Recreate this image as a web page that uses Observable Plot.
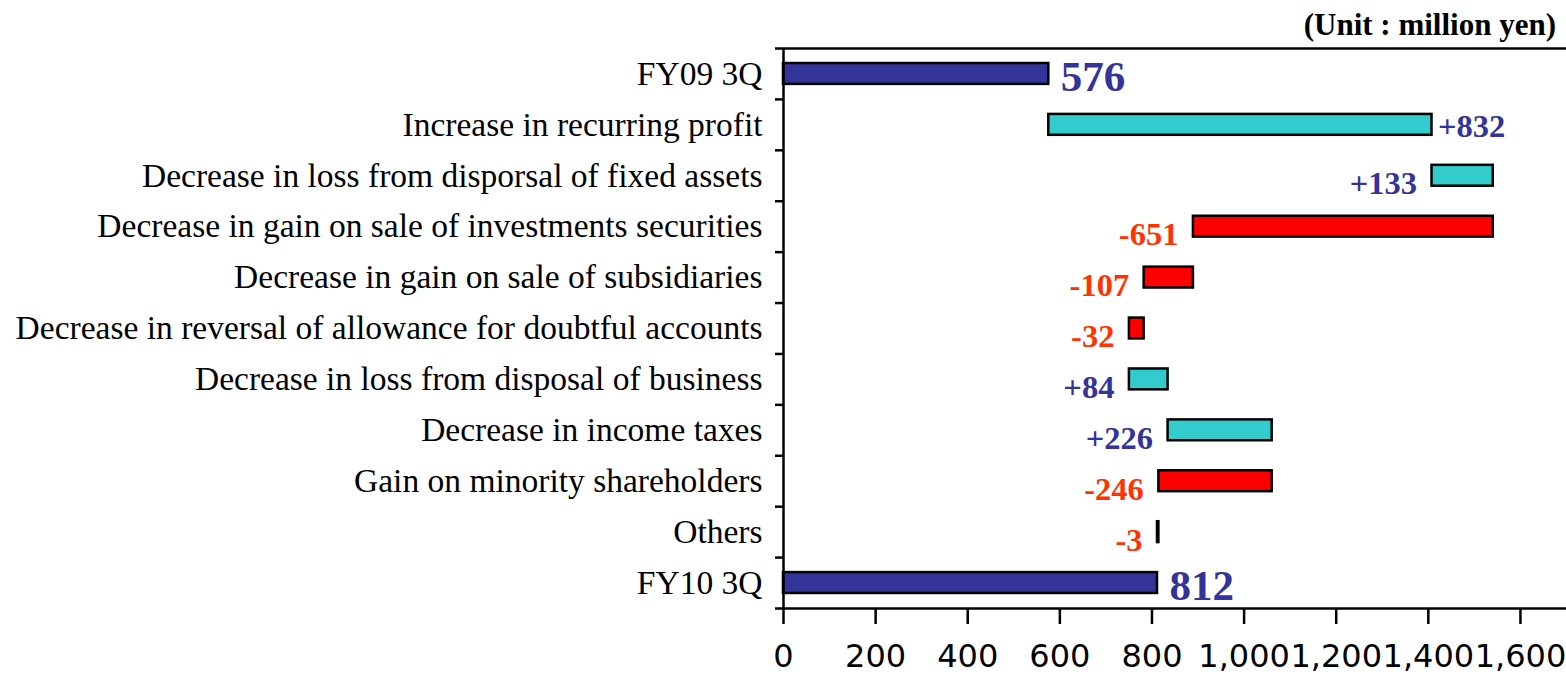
<!DOCTYPE html>
<html>
<head>
<meta charset="utf-8">
<script src="https://cdn.jsdelivr.net/npm/d3@7"></script>
<script src="https://cdn.jsdelivr.net/npm/@observablehq/plot@0.6"></script>
<style>
  html, body { margin: 0; padding: 0; background: #ffffff; }
  #title { box-sizing: border-box; height: 40px; padding-top: 9px; padding-right: 10px; text-align: right;
           font: bold 31px/31px 'Liberation Serif', 'Times New Roman', serif; color: #000; overflow: visible; }
  #chart svg { display: block; }
</style>
</head>
<body>
<div id="title">(Unit : million yen)</div>
<div id="chart"></div>
<script>
// ---- data ----
const categories = [
  "FY09 3Q",
  "Increase in recurring profit",
  "Decrease in loss from disporsal of fixed assets",
  "Decrease in gain on sale of investments securities",
  "Decrease in gain on sale of subsidiaries",
  "Decrease in reversal of allowance for doubtful accounts",
  "Decrease in loss from disposal of business",
  "Decrease in income taxes",
  "Gain on minority shareholders",
  "Others",
  "FY10 3Q"
];
const values = [576, 832, 133, -651, -107, -32, 84, 226, -246, -3, 812];
const xTicks = [0, 200, 400, 600, 800, 1000, 1200, 1400, 1600];

// ---- config ----
const serif = "'Liberation Serif', 'Times New Roman', serif";
const sans = "'DejaVu Sans', Verdana, sans-serif";
const navy = "#333399", orange = "#FF3300";
const barFill = {total: "#333399", increase: "#33CCCC", decrease: "#FF0000"};
const rightLabeled = new Set([0, 1, categories.length - 1]);

// ---- derived rows ----
let running = 0;
const rows = categories.map((c, i) => {
  const isTotal = i === 0 || i === categories.length - 1;
  let start, end;
  if (isTotal) { start = 0; end = values[i]; }
  else { start = running; end = running + values[i]; }
  running = end;
  return {i, category: c, value: values[i], start, end,
          lo: Math.min(start, end), hi: Math.max(start, end),
          kind: isTotal ? "total" : (values[i] >= 0 ? "increase" : "decrease")};
});
const fmtVal = d => d.kind === "total" ? String(d.value) : (d.value > 0 ? "+" + d.value : String(d.value));
const labelColor = d => d.kind === "decrease" ? orange : navy;
const half = 0.205;

const chart = Plot.plot({
  width: 1566,
  height: 635,
  marginTop: 8,
  marginBottom: 67,
  marginLeft: 783,
  marginRight: 0,
  style: {background: "#ffffff", color: "#000", overflow: "visible"},
  x: {domain: [0, 1700], label: null},
  y: {domain: [-0.5, categories.length - 0.5], reverse: true, label: null},
  marks: [
    Plot.rect(rows, {
      x1: "start", x2: "end",
      y1: d => d.i - half, y2: d => d.i + half,
      fill: d => barFill[d.kind], stroke: "#000", strokeWidth: 2.5
    }),
    Plot.ruleX([0], {stroke: "#000", strokeWidth: 2.5}),
    Plot.ruleY([-0.5, categories.length - 0.5], {stroke: "#000", strokeWidth: 2.5}),
    Plot.axisY({
      ticks: d3.range(-0.5, categories.length, 1),
      tickSize: 8, tickFormat: () => "", strokeWidth: 2.5, label: null
    }),
    Plot.axisY({
      ticks: d3.range(categories.length),
      tickSize: 0, tickPadding: 21,
      tickFormat: i => categories[i],
      fontSize: 33.5, fontFamily: serif, fill: "#000", label: null
    }),
    Plot.axisX({
      anchor: "bottom", ticks: xTicks, tickSize: 16, tickPadding: 20,
      tickFormat: d3.format(","), fontSize: 32, fontFamily: sans,
      strokeWidth: 2.5, fill: "#000", label: null
    }),
    // labels to the left of bars
    Plot.text(rows.filter(d => !rightLabeled.has(d.i)), {
      x: "lo", y: "i", text: fmtVal, textAnchor: "end", dx: -15, dy: 8,
      fill: labelColor, fontSize: 32.5, fontWeight: "bold", fontFamily: serif
    }),
    // change labels to the right of bars
    Plot.text(rows.filter(d => rightLabeled.has(d.i) && d.kind !== "total"), {
      x: "hi", y: "i", text: fmtVal, textAnchor: "start", dx: 6, dy: 2,
      fill: labelColor, fontSize: 32.5, fontWeight: "bold", fontFamily: serif
    }),
    // total labels
    Plot.text(rows.filter(d => d.kind === "total"), {
      x: "hi", y: "i", text: fmtVal, textAnchor: "start", dx: 12, dy: 3,
      fill: navy, fontSize: 43, fontWeight: "bold", fontFamily: serif
    })
  ]
});
document.getElementById("chart").appendChild(chart);
</script>
</body>
</html>
